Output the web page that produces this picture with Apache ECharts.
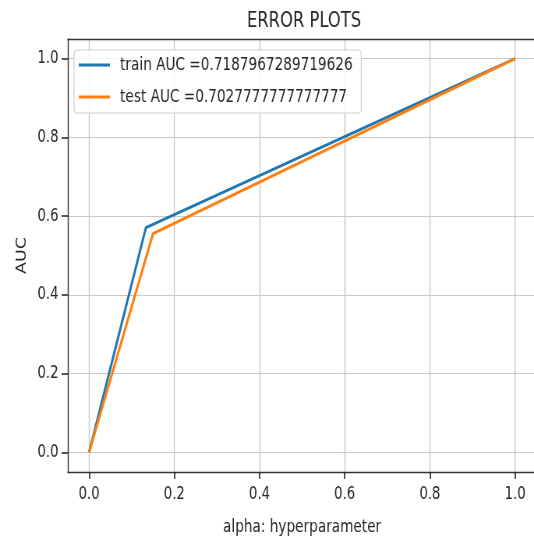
<!DOCTYPE html>
<html><head><meta charset="utf-8">
<script src="https://cdn.jsdelivr.net/npm/echarts@6/dist/echarts.min.js"></script>
<style>
html,body{margin:0;padding:0;overflow:hidden;background:#fff;width:534px;height:538px;}
#c{width:685px;height:538px;transform:scaleX(0.7796);transform-origin:0 0;}
</style></head>
<body><div id="c"></div>
<script>
const trainName = 'train AUC =0.7187967289719626';
const testName = 'test AUC =0.7027777777777777';
const trainX = [0, 0.1333, 1];
const trainY = [0, 0.5709, 1];
const testX = [0, 0.15, 1];
const testY = [0, 0.5556, 1];
const tickMin = 0, tickMax = 1, tickStep = 0.2;
const padMin = -0.05, padMax = 1.05;

const chart = echarts.init(document.getElementById('c'), null, {renderer: 'canvas'});
const font = 'DejaVu Sans';
const txt = '#262626';
const spine = {show: true, onZero: false, lineStyle: {color: '#333', width: 1.3}};
const hiddenLine = {show: true, onZero: false, lineStyle: {color: 'rgba(0,0,0,0)', width: 0}};
function fmt(v){ return Number(v).toFixed(1); }

const G = {left: 87, top: 39, width: 601, height: 433};
const span = padMax - padMin;
const inner = {
  left: G.left + (tickMin - padMin) / span * G.width,
  top: G.top + (padMax - tickMax) / span * G.height,
  width: (tickMax - tickMin) / span * G.width,
  height: (tickMax - tickMin) / span * G.height
};
const offX = G.top + G.height - (inner.top + inner.height);
const offY = inner.left - G.left;

chart.setOption({
  animation: false,
  backgroundColor: '#fff',
  textStyle: {fontFamily: font},
  title: {
    text: 'ERROR PLOTS', left: 385, top: 6.5, textAlign: 'center',
    textStyle: {fontFamily: font, fontSize: 21, fontWeight: 'normal', color: txt}
  },
  grid: [
    Object.assign({show: false, containLabel: false, outerBoundsMode: 'none'}, G),
    Object.assign({show: false, containLabel: false, outerBoundsMode: 'none'}, inner)
  ],
  legend: {
    orient: 'vertical', left: 95, top: 50,
    data: [trainName, testName],
    icon: 'rect',
    backgroundColor: 'rgba(255,255,255,0.85)', borderColor: '#d0d0d0', borderWidth: 1.2, borderRadius: 4,
    padding: [6, 11, 7, 6], itemGap: 14, itemWidth: 40, itemHeight: 3,
    textStyle: {fontFamily: font, fontSize: 17.5, color: txt, lineHeight: 18, padding: [0, 0, 0, 8]}
  },
  xAxis: [{
    gridIndex: 0, type: 'value', min: padMin, max: padMax, position: 'bottom',
    axisLine: spine, axisTick: {show: false}, axisLabel: {show: false},
    splitLine: {show: true, lineStyle: {color: '#c8c8c8', width: 1.4}}
  }, {
    gridIndex: 0, type: 'value', min: padMin, max: padMax, position: 'top',
    axisLine: spine, axisTick: {show: false}, axisLabel: {show: false}, splitLine: {show: false}
  }, {
    gridIndex: 1, type: 'value', min: tickMin, max: tickMax, interval: tickStep, position: 'bottom', offset: offX,
    name: 'alpha: hyperparameter', nameLocation: 'middle', nameGap: 46,
    nameTextStyle: {fontFamily: font, fontSize: 17.5, color: txt},
    axisLine: hiddenLine,
    axisTick: {show: true, inside: false, length: 7, lineStyle: {color: '#222', width: 1.6}},
    axisLabel: {formatter: fmt, fontFamily: font, fontSize: 17, color: txt, margin: 14},
    splitLine: {show: false}
  }],
  yAxis: [{
    gridIndex: 0, type: 'value', min: padMin, max: padMax, position: 'left',
    axisLine: spine, axisTick: {show: false}, axisLabel: {show: false},
    splitLine: {show: true, lineStyle: {color: '#c8c8c8', width: 1.2}}
  }, {
    gridIndex: 1, type: 'value', min: tickMin, max: tickMax, interval: tickStep, position: 'left', offset: offY,
    name: 'AUC', nameLocation: 'middle', nameGap: 50, nameRotate: 90,
    nameTextStyle: {fontFamily: font, fontSize: 17.5, color: txt},
    axisLine: hiddenLine,
    axisTick: {show: true, inside: false, length: 8, lineStyle: {color: '#222', width: 1.5}},
    axisLabel: {formatter: fmt, fontFamily: font, fontSize: 17, color: txt, margin: 12},
    splitLine: {show: false}
  }],
  series: [
    {name: trainName, type: 'line', xAxisIndex: 0, yAxisIndex: 0, data: trainX.map((x, i) => [x, trainY[i]]), symbol: 'none', showSymbol: false,
     lineStyle: {color: '#1f77b4', width: 3}, itemStyle: {color: '#1f77b4'}},
    {name: testName, type: 'line', xAxisIndex: 0, yAxisIndex: 0, data: testX.map((x, i) => [x, testY[i]]), symbol: 'none', showSymbol: false,
     lineStyle: {color: '#ff7f0e', width: 3}, itemStyle: {color: '#ff7f0e'}}
  ]
});
</script></body></html>
